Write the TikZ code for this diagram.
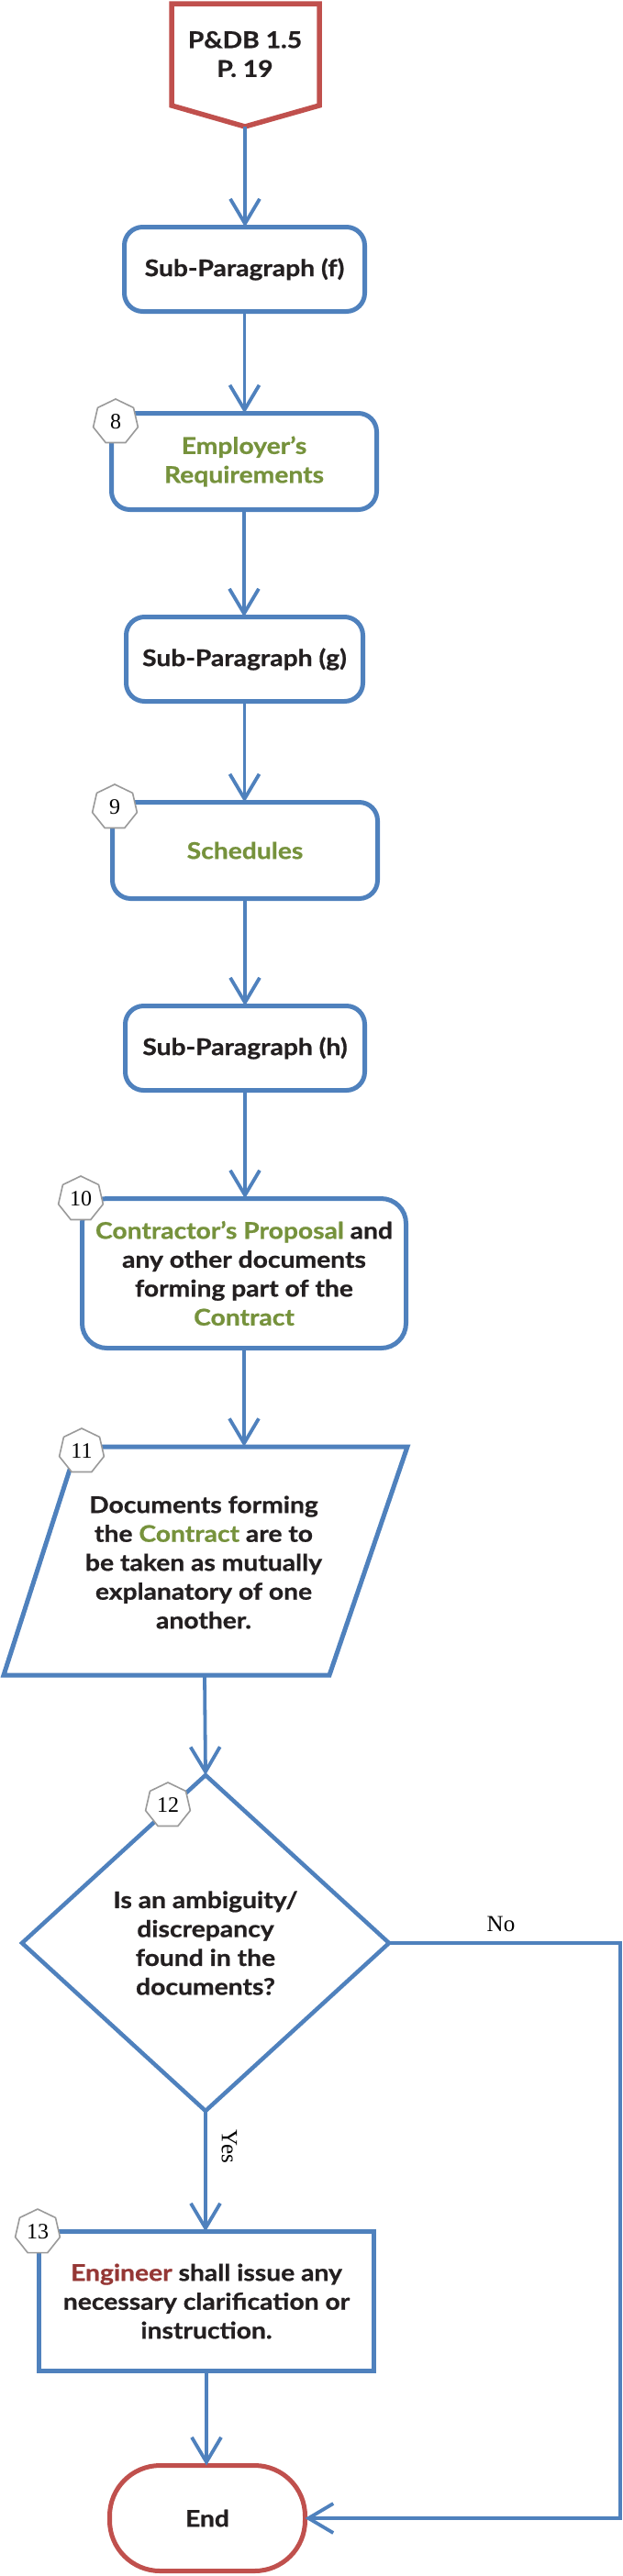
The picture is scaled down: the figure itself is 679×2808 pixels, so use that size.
\documentclass[tikz,border=0pt]{standalone}
\usepackage{fontspec}
\setmainfont{Liberation Serif}
\newfontfamily\gsans{Lato}[FakeStretch=1.13,BoldFeatures={FakeBold=0.8}]
\usetikzlibrary{arrows.meta,shapes.geometric,calc}
\definecolor{fblue}{HTML}{4F81BD}
\definecolor{fred}{HTML}{C0504D}
\definecolor{fgreen}{HTML}{76923C}
\definecolor{engred}{HTML}{953735}
\definecolor{txtblack}{HTML}{231F20}
\definecolor{taggray}{HTML}{9A9A9A}
\newcommand{\grn}[1]{\textcolor{fgreen}{#1}}
\begin{document}
\begin{tikzpicture}[x=1pt,y=-1pt,
  every node/.style={inner sep=0pt, outer sep=0pt},
  txt/.style={align=center, text=txtblack, font=\gsans\bfseries\fontsize{25}{31.5}\selectfont},
  box/.style={txt, draw=fblue, line width=5pt, rounded corners=20pt, fill=white},
  sqbox/.style={txt, draw=fblue, line width=5pt, fill=white},
  endbox/.style={txt, draw=fred, line width=5pt, rounded corners=55pt, fill=white},
  conn/.style={draw=fblue, line width=3.8pt, -{Straight Barb[length=27pt,width=32pt]}},
  tag/.style={regular polygon, regular polygon sides=7, minimum size=50pt, draw=taggray, line width=1.6pt, fill=white, text=black, font=\fontsize{24}{24}\selectfont},
  lbl/.style={text=black, font=\fontsize{25}{25}\selectfont},
]
\useasboundingbox (0,0) rectangle (679,2808);

% start: off-page connector
\draw[fred, line width=5.5pt, fill=white] (187,4) -- (348,4) -- (348,115) -- (267,138) -- (187,115) -- cycle;
\coordinate (starttip) at (267,138);
\node[txt] (start) at (267,59) {P\&DB 1.5\\P. 19};

\node[box, minimum width=262pt, minimum height=92pt] (f) at (266.5,293.5) {Sub-Paragraph (f)};
\node[box, minimum width=289pt, minimum height=105pt] (e8) at (266,503) {\grn{Employer’s}\\\grn{Requirements}};
\node[box, minimum width=258pt, minimum height=92pt] (g) at (266.5,718.5) {Sub-Paragraph (g)};
\node[box, minimum width=289pt, minimum height=105pt] (s9) at (267,927) {\grn{Schedules}};
\node[box, minimum width=261pt, minimum height=92pt] (h) at (267,1142.5) {Sub-Paragraph (h)};
\node[box, rounded corners=27pt, minimum width=353pt, minimum height=163pt] (c10) at (266,1388)
  {\grn{Contractor’s Proposal} and\\any other documents\\forming part of the\\\grn{Contract}};

% parallelogram
\coordinate (p11tl) at (84,1577);
\coordinate (p11tr) at (444,1577);
\coordinate (p11br) at (359,1826);
\coordinate (p11bl) at (4,1826);
\draw[fblue, line width=5pt, fill=white] (p11tl) -- (p11tr) -- (p11br) -- (p11bl) -- cycle;
\node[txt] (t11) at (222,1703) {Documents forming\\the \grn{Contract} are to\\be taken as mutually\\explanatory of one\\another.};
\coordinate (p11s) at (223,1826);

\node[txt, diamond, draw=fblue, line width=4.5pt, fill=white, minimum width=400pt, minimum height=366pt] (d12) at (224,2118)
  {Is an ambiguity/\\discrepancy\\found in the\\documents?};

\node[sqbox, minimum width=365pt, minimum height=152pt] (e13) at (225,2508.5)
  {\textcolor{engred}{Engineer} shall issue any\\necessary clarification or\\instruction.};

\node[endbox, minimum width=213pt, minimum height=115pt] (end) at (226,2745) {End};

% tags
\node[tag] (n8) at (126,460) {8};
\node[tag] (n9) at (125,880) {9};
\node[tag] (n10) at (88,1307) {10};
\node[tag] (n11) at (89,1582) {11};
\node[tag] (n12) at (183,1968) {12};
\node[tag] (n13) at (41,2433) {13};

% connectors
\draw[conn] (starttip) -- (starttip |- f.north);
\draw[conn] (f.south) -- (f.south |- e8.north);
\draw[conn] (e8.south) -- (e8.south |- g.north);
\draw[conn] (g.south) -- (g.south |- s9.north);
\draw[conn] (s9.south) -- (s9.south |- h.north);
\draw[conn] (h.south) -- (h.south |- c10.north);
\draw[conn] (c10.south) -- (c10.south |- p11tl);
\draw[conn] (p11s) -- (d12.north);
\draw[conn] (d12.south) -- (d12.south |- e13.north);
\draw[conn] (e13.south) -- (e13.south |- end.north);
\coordinate (nocorner1) at (676,2118);
\coordinate (nocorner2) at (676,2745);
\draw[conn] (d12.east) -- (nocorner1) -- (nocorner2) -- (end.east);

\node[lbl] (nolbl) at (546,2097) {No};
\node[lbl, rotate=-90] (yeslbl) at (250,2340) {Yes};
\end{tikzpicture}
\end{document}
